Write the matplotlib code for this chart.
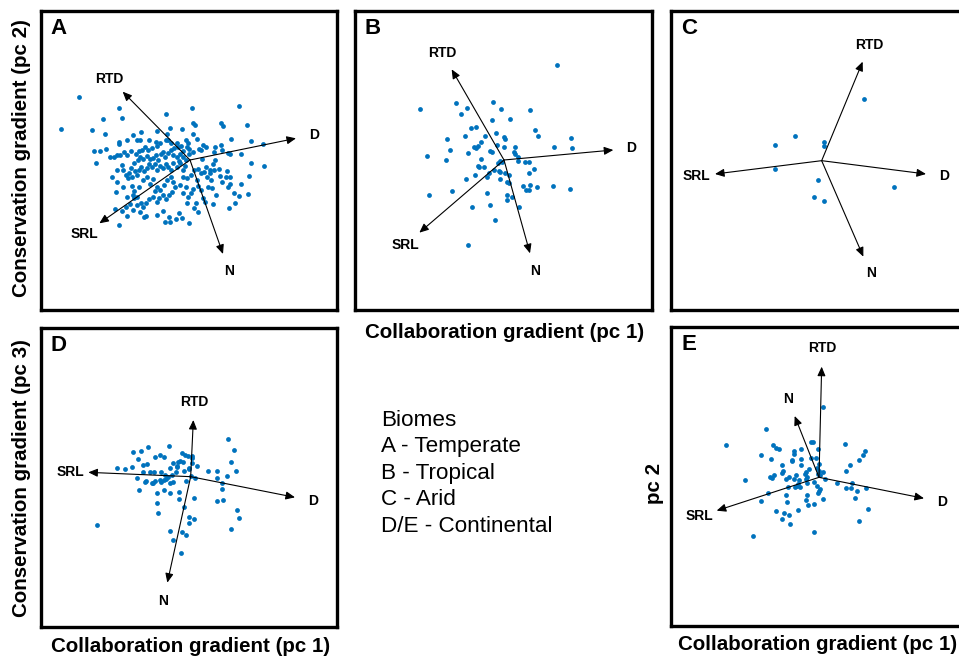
import numpy as np
import matplotlib
matplotlib.use("Agg")
from matplotlib import pyplot as plt

plt.rcParams['font.family'] = ['Liberation Sans', 'DejaVu Sans']

W, H = 959, 658
dot_color = '#0072BD'

variables = ["RTD", "D", "SRL", "N"]

# loadings (arrow tips) per biome, in score units
a_load = [(-2.02, 2.05), (3.18, 0.65), (-2.72, -1.90), (0.99, -2.82)]
b_load = [(-1.57, 2.72), (3.28, 0.30), (-2.54, -2.18), (0.78, -2.80)]
c_load = [(1.23, 2.97), (3.13, -0.40), (-3.20, -0.40), (1.25, -2.88)]
d_load = [(0.08, 1.70), (3.13, -0.62), (-3.07, 0.13), (-0.70, -3.18)]
e_load = [(0.08, 3.32), (3.15, -0.63), (-3.07, -1.00), (-0.73, 1.84)]

# scores (crop pixels, 100 px = 1 unit, y down)
a_pts = [(117,110),(62,206),(237,145),(188,178),(157,210),(246,173),(195,222),(377,163),(456,145),
    (597,138),(458,188),(544,188),(549,197),(620,195),(390,205),(425,208),(460,222),(464,196),
    (352,213),(574,236),(632,242),(669,253),(163,272),(180,274),(197,268),(168,310),(210,290),
    (237,245),(238,253),(260,240),(278,225),(292,240),(300,240),(303,215),(328,240),(347,245),
    (380,222),(384,240),(410,250),(438,240),(422,258),(444,250),(470,237),(490,255),(498,262),
    (525,262),(543,256),(546,270),(522,276),(565,280),(570,282),(602,283),(632,308),(673,318),
    (628,347),(602,372),(598,407),(625,403),(584,428),(568,445),(563,382),(560,333),(557,350),
    (570,350),(540,347),(521,331),(525,300),(518,312),(509,330),(498,320),(486,297),(484,270),
    (476,268),(460,275),(448,268),(440,260),(430,272),(413,262),(401,263),(392,250),(378,240),
    (360,250),(350,258),(337,265),(325,270),(316,262),(305,270),(296,272),(289,283),(274,272),
    (260,285),(253,276),(240,285),(232,285),(222,290),(215,352),(230,365),(250,380),(264,353),
    (275,378),(272,323),(282,310),(294,300),(300,290),(310,296),(320,288),(330,298),(340,293),
    (348,285),(355,300),(364,283),(370,275),(376,290),(384,278),(392,270),(400,285),(410,292),
    (416,303),(420,282),(430,290),(438,300),(446,282),(436,318),(428,330),(420,310),(410,320),
    (400,310),(392,330),(385,320),(378,312),(370,325),(360,317),(352,330),(345,312),(337,320),
    (328,312),(320,325),(313,333),(303,322),(296,330),(290,345),(284,333),(276,350),(268,340),
    (258,345),(250,330),(246,315),(232,330),(228,395),(260,410),(278,405),(282,392),(292,410),
    (298,380),(310,360),(320,350),(330,372),(340,358),(350,382),(346,393),(360,390),(372,375),
    (380,360),(392,352),(400,365),(406,380),(396,395),(388,405),(378,418),(370,405),(358,415),
    (350,425),(340,410),(326,418),(318,430),(310,440),(302,428),(292,435),(282,415),(270,432),
    (258,440),(245,452),(226,448),(236,495),(262,468),(278,450),(300,455),(312,470),(318,468),
    (350,465),(370,453),(388,470),(408,478),(417,460),(376,487),(390,485),(425,475),(447,490),
    (440,428),(445,410),(454,400),(460,388),(470,360),(475,378),(482,390),(490,415),(503,380),
    (512,360),(517,385),(527,405),(518,432),(496,425),(468,430),(462,445),(473,455),(438,380),
    (430,398),(420,375),(428,352),(440,355),(453,345),(462,330),(474,328),(484,340),(492,335),
    (500,350),(510,340),(536,327),(545,365),(570,372),(582,400)]
b_pts = [(530,75),(120,207),(229,188),(260,204),(244,221),(338,186),(364,206),(449,209),(390,238),
    (335,239),(273,264),(287,261),(349,278),(466,271),(474,287),(255,289),(202,297),(315,287),
    (373,291),(376,298),(304,306),(281,320),(289,323),(293,319),(209,330),(329,332),(337,336),
    (352,316),(373,322),(404,320),(402,337),(405,343),(415,350),(264,340),(142,348),(198,361),
    (302,356),(360,364),(355,370),(367,365),(415,363),(435,366),(448,365),(294,378),(298,381),
    (312,380),(328,400),(321,410),(343,390),(358,393),(361,397),(375,398),(388,406),(360,417),
    (258,417),(284,405),(448,400),(462,388),(522,320),(573,295),(576,325),(381,425),(388,430),
    (428,437),(451,435),(438,450),(447,450),(471,440),(518,437),(571,447),(215,452),(148,465),
    (320,460),(380,466),(396,470),(380,480),(330,495),(277,500),(418,502),(344,540),(263,616)]
c_pts = [(582,298),(376,407),(315,435),(462,427),(462,437),(315,507),(445,539),(672,561),
    (432,592),(463,604)]
d_pts = [(565,176),(583,211),(387,197),(324,200),(303,213),(279,215),(293,237),(346,230),(360,225),
    (372,232),(425,220),(435,225),(443,227),(455,228),(455,235),(413,245),(398,250),(420,243),
    (429,245),(411,258),(412,262),(322,252),(310,255),(230,265),(254,266),(276,262),(389,265),
    (447,265),(457,250),(471,258),(572,246),(588,273),(505,273),(532,272),(560,289),(308,276),
    (331,276),(343,275),(363,277),(375,285),(397,285),(409,275),(433,272),(448,268),(452,287),
    (385,292),(378,296),(371,300),(362,305),(345,302),(338,310),(317,302),(315,307),(290,295),
    (297,329),(373,330),(351,338),(390,310),(389,340),(418,335),(439,302),(465,295),(531,295),
    (547,310),(545,326),(417,357),(462,353),(431,380),(531,363),(550,360),(350,368),(354,398),
    (447,410),(462,418),(447,430),(591,390),(598,413),(573,446),(391,452),(426,455),(437,466),
    (399,480),(422,518),(172,435),(400,306),(360,300),(336,309)]
e_pts = [(458,262),(289,328),(168,375),(526,373),(584,393),(580,405),(568,419),(541,434),(527,452),
    (423,365),(428,365),(445,387),(393,388),(373,393),(371,403),(318,385),(326,386),(309,375),
    (274,404),(302,416),(366,420),(367,424),(393,417),(437,413),(422,413),(447,432),(394,434),
    (336,436),(338,452),(336,458),(418,447),(407,456),(405,461),(440,445),(447,453),(458,456),
    (444,462),(450,466),(313,466),(306,473),(300,472),(349,478),(358,470),(377,466),(371,478),
    (388,480),(410,470),(408,477),(384,492),(380,498),(389,500),(376,500),(355,502),(411,490),
    (432,487),(441,497),(449,507),(448,513),(466,476),(500,490),(527,503),(545,488),(544,503),
    (560,512),(587,503),(226,481),(293,518),(273,542),(347,524),(350,545),(411,525),(408,540),
    (415,556),(432,552),(443,518),(458,536),(384,570),(317,572),(341,578),(357,585),(359,611),
    (335,598),(555,533),(595,566),(568,604),(432,635),(250,649)]

biome_lines = ["Biomes", "A - Temperate", "B - Tropical", "C - Arid", "D/E - Continental"]

# panel layout: letter, box (l, t, r, b) in px, crop offset, score origin in crop px
panels = [
    ("A", (41, 11, 337, 310), (40, 60), (450, 300), a_pts, a_load),
    ("B", (355, 11, 652, 310), (380, 40), (372, 360), b_pts, b_load),
    ("C", (671, 11, 968, 310), (670, 0), (455, 482), c_pts, c_load),
    ("D", (41, 328, 337, 627), (40, 380), (452, 290), d_pts, d_load),
    ("E", (671, 327, 968, 626), (670, 320), (447, 472), e_pts, e_load),
]

fig = plt.figure(figsize=(W/100, H/100), dpi=100)

for letter, (l, t, r, b), crop, org, pts, load in panels:
    ax = fig.add_axes([l/W, 1 - b/H, (r - l)/W, (b - t)/H])
    ox = crop[0] + org[0]/3
    oy = crop[1] + org[1]/3
    ax.set_xlim((l - ox)*0.03, (r - ox)*0.03)
    ax.set_ylim((oy - b)*0.03, (oy - t)*0.03)
    ax.set_xticks([])
    ax.set_yticks([])
    for s in ax.spines.values():
        s.set_linewidth(2.4)
    sc = (np.array(pts, dtype=float) - np.array(org)) / 100 * np.array([1, -1])
    ax.scatter(sc[:, 0], sc[:, 1], s=12, color=dot_color, lw=0, zorder=2)
    for name, (lx, ly) in zip(variables, load):
        ax.annotate('', xy=(lx, ly), xytext=(0, 0),
                    arrowprops=dict(arrowstyle='-|>,head_length=0.5,head_width=0.22',
                                    color='k', lw=0.8, mutation_scale=11,
                                    shrinkA=0, shrinkB=0), zorder=3)
        n = np.hypot(lx, ly)
        ax.text(lx + 0.55*lx/n, ly + 0.55*ly/n, name, ha='center', va='center',
                fontsize=10, fontweight='bold')
    ax.text(0.06, 0.94, letter, transform=ax.transAxes, ha='center', va='center',
            fontsize=16, fontweight='bold')

lab = dict(fontsize=14.8, fontweight='bold', ha='center', va='center')
fig.text(505/W, 1 - 333/H, "Collaboration gradient (pc 1)", **lab)
fig.text(191/W, 1 - 646/H, "Collaboration gradient (pc 1)", **lab)
fig.text(818/W, 1 - 645/H, "Collaboration gradient (pc 1)", **lab)
fig.text(22/W, 1 - 158/H, "Conservation gradient (pc 2)", rotation=90, **lab)
fig.text(22/W, 1 - 478/H, "Conservation gradient (pc 3)", rotation=90, **lab)
fig.text(655/W, 1 - 483/H, "pc 2", rotation=90, **lab)

for i, line in enumerate(biome_lines):
    fig.text(381/W, 1 - (420 + 26.5*i)/H, line, fontsize=16.2, ha='left', va='center')

fig.savefig("out.png", dpi=100)
